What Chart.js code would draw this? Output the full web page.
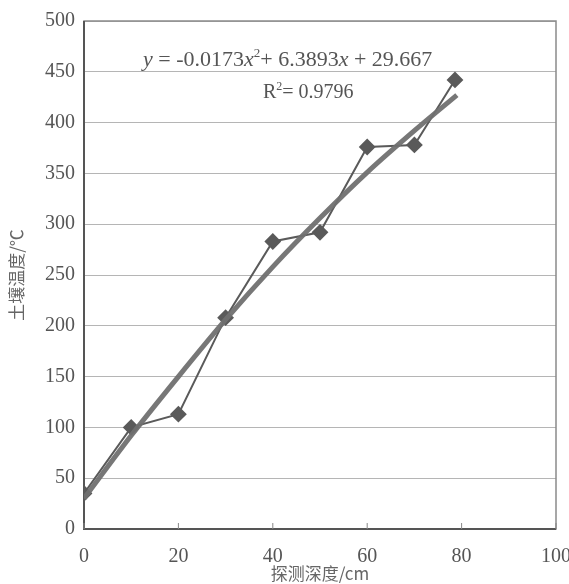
<!DOCTYPE html>
<html>
<head>
<meta charset="utf-8">
<script src="https://cdn.jsdelivr.net/npm/chart.js@4"></script>
<style>
  html, body { margin: 0; padding: 0; background: #fff; }
  canvas { display: block; }
</style>
</head>
<body>
<canvas id="grafico" width="569" height="584"></canvas>
<script>
// measured depth (cm) and soil temperature (°C)
const depths = [0, 10, 20, 30, 40, 50, 60, 70, 78.6];
const temps = [35, 100, 113, 208, 283, 292, 376, 378, 442];

// trend line
const trendDepths = [0, 10, 20, 30, 40, 50, 60, 70, 79];
const trendTemps = [30, 92, 150, 206, 258, 306, 351, 392, 427];

const xTicks = [0, 20, 40, 60, 80, 100];
const yTicks = [0, 50, 100, 150, 200, 250, 300, 350, 400, 450, 500];

const equationParts = [
  { t: 'y', italic: true }, { t: ' = -0.0173' }, { t: 'x', italic: true },
  { t: '2', sup: true }, { t: '+ 6.3893' }, { t: 'x', italic: true }, { t: ' + 29.667' }
];
const r2Parts = [{ t: 'R' }, { t: '2', sup: true }, { t: '= 0.9796' }];

const serif = '"Liberation Serif", "DejaVu Serif", serif';
const cjk = '"Noto Sans CJK SC", "Noto Sans", sans-serif';

function drawParts(ctx, parts, x, y, size) {
  for (const p of parts) {
    const s = p.sup ? Math.round(size * 0.6) : size;
    ctx.font = (p.italic ? 'italic ' : '') + s + 'px ' + serif;
    ctx.fillText(p.t, x, p.sup ? y - size * 0.4 : y);
    x += ctx.measureText(p.t).width;
  }
}

// marco del área y ecuación
const marco = {
  id: 'marco',
  beforeDatasetsDraw(chart) {
    const { ctx, chartArea: a } = chart;
    ctx.save();
    ctx.strokeStyle = '#8a8a8a';
    ctx.lineWidth = 1.5;
    ctx.strokeRect(a.left, a.top, a.right - a.left, a.bottom - a.top);
    ctx.strokeStyle = '#555';
    ctx.lineWidth = 2;
    ctx.beginPath();
    ctx.moveTo(a.left, a.top);
    ctx.lineTo(a.left, a.bottom);
    ctx.lineTo(a.right, a.bottom);
    ctx.stroke();
    // small ticks pointing inwards on the x axis
    const xs = chart.scales.x;
    ctx.lineWidth = 1;
    ctx.strokeStyle = '#888';
    for (const v of xTicks) {
      const px = xs.getPixelForValue(v);
      ctx.beginPath();
      ctx.moveTo(px, a.bottom);
      ctx.lineTo(px, a.bottom - 6);
      ctx.stroke();
    }
    ctx.restore();
  },
  afterDraw(chart) {
    const { ctx } = chart;
    ctx.save();
    ctx.fillStyle = '#555';
    ctx.textBaseline = 'alphabetic';
    drawParts(ctx, equationParts, 143, 66, 22);
    drawParts(ctx, r2Parts, 263, 98, 20);
    ctx.restore();
  }
};

new Chart(document.getElementById('grafico'), {
  type: 'line',
  data: {
    datasets: [
      {
        label: 'trend',
        data: trendDepths.map((d, i) => ({ x: d, y: trendTemps[i] })),
        borderColor: 'rgba(112,112,112,0.95)',
        borderWidth: 5,
        pointRadius: 0,
        cubicInterpolationMode: 'monotone'
      },
      {
        label: 'temp',
        data: depths.map((d, i) => ({ x: d, y: temps[i] })),
        borderColor: '#5a5a5a',
        borderWidth: 2,
        pointStyle: 'rectRot',
        pointRadius: 7,
        pointBackgroundColor: '#5a5a5a',
        pointBorderColor: '#5a5a5a',
        tension: 0
      }
    ]
  },
  options: {
    responsive: false,
    devicePixelRatio: 1,
    animation: false,
    layout: { padding: { top: 16, right: 13, left: 0, bottom: 0 } },
    plugins: { legend: { display: false }, tooltip: { enabled: false } },
    scales: {
      x: {
        type: 'linear',
        min: 0, max: 100,
        afterBuildTicks: s => { s.ticks = xTicks.map(v => ({ value: v })); },
        afterFit: s => { s.height = 55; s.paddingLeft = 0; s.paddingRight = 0; },
        grid: { display: false },
        border: { display: false },
        ticks: { color: '#555', padding: 8, font: { family: serif, size: 20 } },
        title: {
          display: true, text: '探测深度/cm', color: '#666',
          font: { family: cjk, size: 17 }, padding: { top: 0, bottom: 0 }
        }
      },
      y: {
        type: 'linear',
        min: 0, max: 500,
        afterBuildTicks: s => { s.ticks = yTicks.map(v => ({ value: v })); },
        afterFit: s => { s.width = 84; },
        grid: { color: '#b5b5b5', lineWidth: 1, drawTicks: false },
        border: { display: false },
        ticks: { color: '#555', padding: 9, font: { family: serif, size: 20 } },
        title: {
          display: true, text: '土壤温度/℃', color: '#666',
          font: { family: cjk, size: 17 }, padding: { top: 6, bottom: 0 }
        }
      }
    }
  },
  plugins: [marco]
});
</script>
</body>
</html>
